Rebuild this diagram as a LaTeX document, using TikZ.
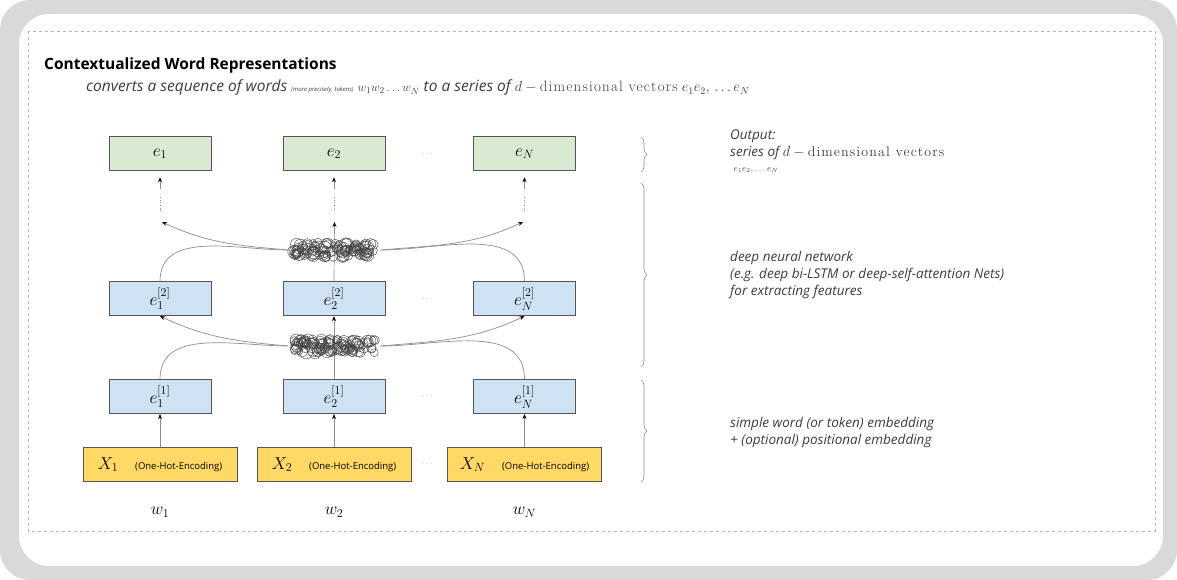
\documentclass[tikz,border=0pt]{standalone}
\usepackage{amsmath}
\usepackage{fontspec}
\usetikzlibrary{calc,positioning,arrows.meta,decorations.pathreplacing}

\newfontfamily\notefont{Open Sans}
\newfontfamily\vecfont[LetterSpace=8]{Latin Modern Roman}
\definecolor{framegray}{HTML}{D9D9D9}
\definecolor{dashgray}{HTML}{B4B4B4}
\definecolor{boxline}{HTML}{555555}
\definecolor{outgreen}{HTML}{D9EAD3}
\definecolor{hidblue}{HTML}{CFE2F3}
\definecolor{inyellow}{HTML}{FFD966}
\definecolor{linkgray}{HTML}{8C8C8C}
\definecolor{textgray}{HTML}{3C3C3C}

\tikzset{
  box/.style={draw=boxline, line width=0.9pt, minimum width=102pt, minimum height=34pt, inner sep=0pt, font=\fontsize{17}{19}\selectfont},
  outbox/.style={box, fill=outgreen},
  hidbox/.style={box, fill=hidblue},
  inbox/.style={box, fill=inyellow, minimum width=154pt},
  link/.style={draw=linkgray, line width=0.7pt},
  netbox/.style={inner sep=0pt, minimum width=92pt, minimum height=22pt},
  scribble/.style={draw=black!75, line width=0.4pt},
  dotsep/.style={text=linkgray, font=\fontsize{9}{10}\selectfont},
  wordlabel/.style={font=\fontsize{17}{19}\selectfont},
  note/.style={anchor=west, align=left, inner sep=0pt, text=textgray, font=\notefont\itshape\fontsize{13.5}{17}\selectfont},
  sidebrace/.style={draw=linkgray, line width=0.6pt, decorate, decoration={brace, amplitude=6pt}}
}
\newcommand{\hotlabel}{{\notefont\fontsize{9.5}{10}\selectfont (One-Hot-Encoding)}}

\begin{document}
\begin{tikzpicture}[x=1pt,y=1pt,>={Stealth[length=5pt,width=4pt,black]}]
  \useasboundingbox (0,0) rectangle (1177,-580);
  \fill[framegray, rounded corners=30pt, even odd rule] (0,0) rectangle (1177,-580) (19,-14) rectangle (1163,-566);
  \draw[dashgray, dashed, line width=0.8pt] (28,-31) rectangle (1155,-531);

  \node[anchor=base west, inner sep=0pt, font=\notefont\bfseries\fontsize{15.5}{18}\selectfont] (title) at (44,-70) {Contextualized Word Representations};
  \node[anchor=base west, inner sep=0pt, text=textgray, font=\notefont\itshape\fontsize{15.5}{17}\selectfont] (subtitle) at (86,-92) {converts a sequence of words {\fontsize{6}{7}\selectfont (more precisely, tokens)} {\fontsize{13}{15}\selectfont$w_1w_2\,{\ldotp\ldotp\ldotp}\,w_N$} to a series of {\upshape\fontsize{15}{16}\selectfont$d-{}${\vecfont dimensional vectors}} {\fontsize{14}{15}\selectfont$e_1e_2,\,{\ldotp\ldotp\ldotp}\,e_N$}};

  \node[inbox] (onehot1) at (160,-464.5) {$X_1$\quad\hotlabel};
  \node[inbox] (onehot2) at (334,-464.5) {$X_2$\quad\hotlabel};
  \node[inbox] (onehotN) at (524.5,-464.5) {$X_N$\quad\hotlabel};
  \node[hidbox, above=33pt of onehot1] (emb1) {$e_1^{[1]}$};
  \node[hidbox, above=33pt of onehot2] (emb2) {$e_2^{[1]}$};
  \node[hidbox, above=33pt of onehotN] (embN) {$e_N^{[1]}$};
  \node[hidbox, above=63pt of emb1] (deep1) {$e_1^{[2]}$};
  \node[hidbox, above=63pt of emb2] (deep2) {$e_2^{[2]}$};
  \node[hidbox, above=63pt of embN] (deepN) {$e_N^{[2]}$};
  \node[outbox, above=110pt of deep1] (out1) {$e_1$};
  \node[outbox, above=110pt of deep2] (out2) {$e_2$};
  \node[outbox, above=110pt of deepN] (outN) {$e_N$};
  \node[wordlabel] (word1) at (160,-512) {$w_1$};
  \node[wordlabel] (word2) at (334,-512) {$w_2$};
  \node[wordlabel] (wordN) at (524.5,-512) {$w_N$};
  \node[dotsep] (dotsA) at (428,-154) {$\cdots$};
  \node[dotsep] (dotsB) at (428,-299) {$\cdots$};
  \node[dotsep] (dotsC) at (428,-396.5) {$\cdots$};
  \node[dotsep] (dotsD) at (428,-464.5) {$\cdots$};

  \node[netbox] (netA) at (334.5,-346) {};
  \node[netbox] (netB) at (334.5,-250) {};

  \draw[link,->] (onehot1) -- (emb1);
  \draw[link,->] (onehot2) -- (emb2);
  \draw[link,->] (onehotN) -- (embN);
  \draw[link,->] (emb2) -- (deep2);
  \draw[link] (emb1.north) to[out=90,in=180] (netA.west);
  \draw[link,->] (netA.west) to[out=175,in=-25] (deep1.south);
  \draw[link] (embN.north) to[out=90,in=0] (netA.east);
  \draw[link,->] (netA.east) to[out=5,in=205] (deepN.south);

  \coordinate (tip1) at (162,-222);
  \coordinate (tip2) at (334.5,-222);
  \coordinate (tipN) at (523,-222);
  \draw[link,->] (deep2.north) -- (tip2);
  \draw[link] (deep1.north) to[out=90,in=180] (netB.west);
  \draw[link,->] (netB.west) to[out=175,in=-25] (tip1);
  \draw[link] (deepN.north) to[out=90,in=0] (netB.east);
  \draw[link,->] (netB.east) to[out=5,in=205] (tipN);

  \coordinate (base1) at (160,-211);
  \coordinate (base2) at (334.5,-211);
  \coordinate (baseN) at (524.5,-211);
  \coordinate (stack1) at (160,-196);
  \coordinate (stack2) at (334.5,-196);
  \coordinate (stackN) at (524.5,-196);
  \draw[link,dotted] (base1) -- (stack1);
  \draw[link,dotted] (base2) -- (stack2);
  \draw[link,dotted] (baseN) -- (stackN);
  \draw[link,->] ([yshift=-18pt]out1.south) -- ([yshift=-6pt]out1.south);
  \draw[link,->] ([yshift=-18pt]out2.south) -- ([yshift=-6pt]out2.south);
  \draw[link,->] ([yshift=-18pt]outN.south) -- ([yshift=-6pt]outN.south);

  \pgfmathsetseed{11}
  \foreach \k in {1,...,110} {
    \draw[scribble] ($(netA)+(rand*41,rand*7)$) circle ({3.5+rnd*3});
    \draw[scribble] ($(netB)+(rand*41,rand*7)$) circle ({3.5+rnd*3});
  }

  \draw[sidebrace] (641,-137) -- (641,-172);
  \draw[sidebrace] (641,-183) -- (641,-367);
  \draw[sidebrace] (641,-380) -- (641,-482);

  \node[note] (outnote) at (730,-151) {Output:\\series of {\upshape$d-{}${\vecfont\fontsize{14}{15}\selectfont dimensional vectors}}\\[-2pt]\ {\fontsize{9}{10}\selectfont$e_1e_2,\ldots e_N$}};
  \node[note] (deepnote) at (730,-275) {deep neural network\\(e.g. deep bi-LSTM or deep-self-attention Nets)\\for extracting features};
  \node[note] (embnote) at (730,-432.5) {simple word (or token) embedding\\+ (optional) positional embedding};
\end{tikzpicture}
\end{document}
